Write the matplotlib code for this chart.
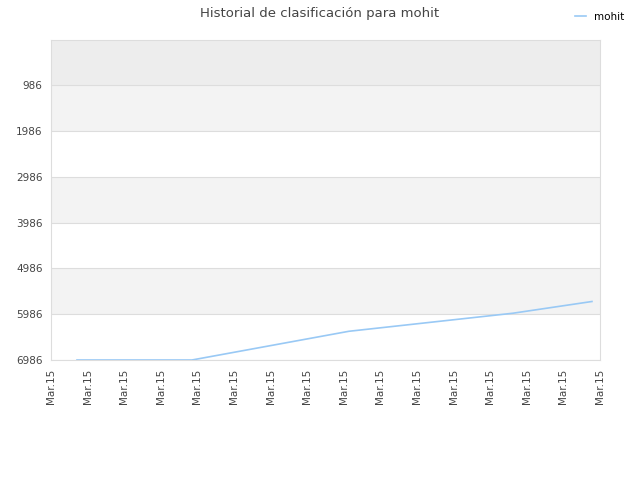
import numpy as np
import matplotlib
matplotlib.use("Agg")
import matplotlib.pyplot as plt

# ranking history (x = position along the time axis, in tick units)
x_pos = [0.71, 3.85, 8.14, 12.62, 14.78]
rank = [6986, 6986, 6359, 5965, 5709]
y_ticks = [986, 1986, 2986, 3986, 4986, 5986, 6986]
x_labels = ["Mar.15"] * 16

fig = plt.figure(figsize=(6.4, 4.8), dpi=100)
ax = fig.add_axes([0.0797, 0.25, 0.8578, 0.6667])

ax.set_xlim(0, 15)
ax.set_ylim(6986, 0)

# background bands
ax.axhspan(0, 986, color="#ededed", zorder=0, lw=0)
for lo in [986, 2986, 4986]:
    ax.axhspan(lo, lo + 1000, color="#f3f3f3", zorder=0, lw=0)

for y in y_ticks:
    ax.axhline(y, color="#dddddd", lw=0.8, zorder=1)

ax.plot(x_pos, rank, color="#99c9f5", lw=1.2, zorder=3, label="mohit")

ax.set_yticks(y_ticks)
ax.set_yticklabels([str(v) for v in y_ticks], fontsize=7.5, color="#444444")
ax.set_xticks(np.arange(16))
ax.set_xticklabels(x_labels, rotation=90, fontsize=7.5, color="#444444")
ax.tick_params(length=0, pad=6)

for s in ax.spines.values():
    s.set_color("#dddddd")

fig.text(0.5, 0.972, "Historial de clasificación para mohit", ha="center",
         va="center", fontsize=9.5, color="#444444")
fig.legend(loc="upper right", bbox_to_anchor=(0.99, 0.995), frameon=False,
           fontsize=7.5, handlelength=1.0, handletextpad=0.8)

fig.savefig("out.png", dpi=100)
